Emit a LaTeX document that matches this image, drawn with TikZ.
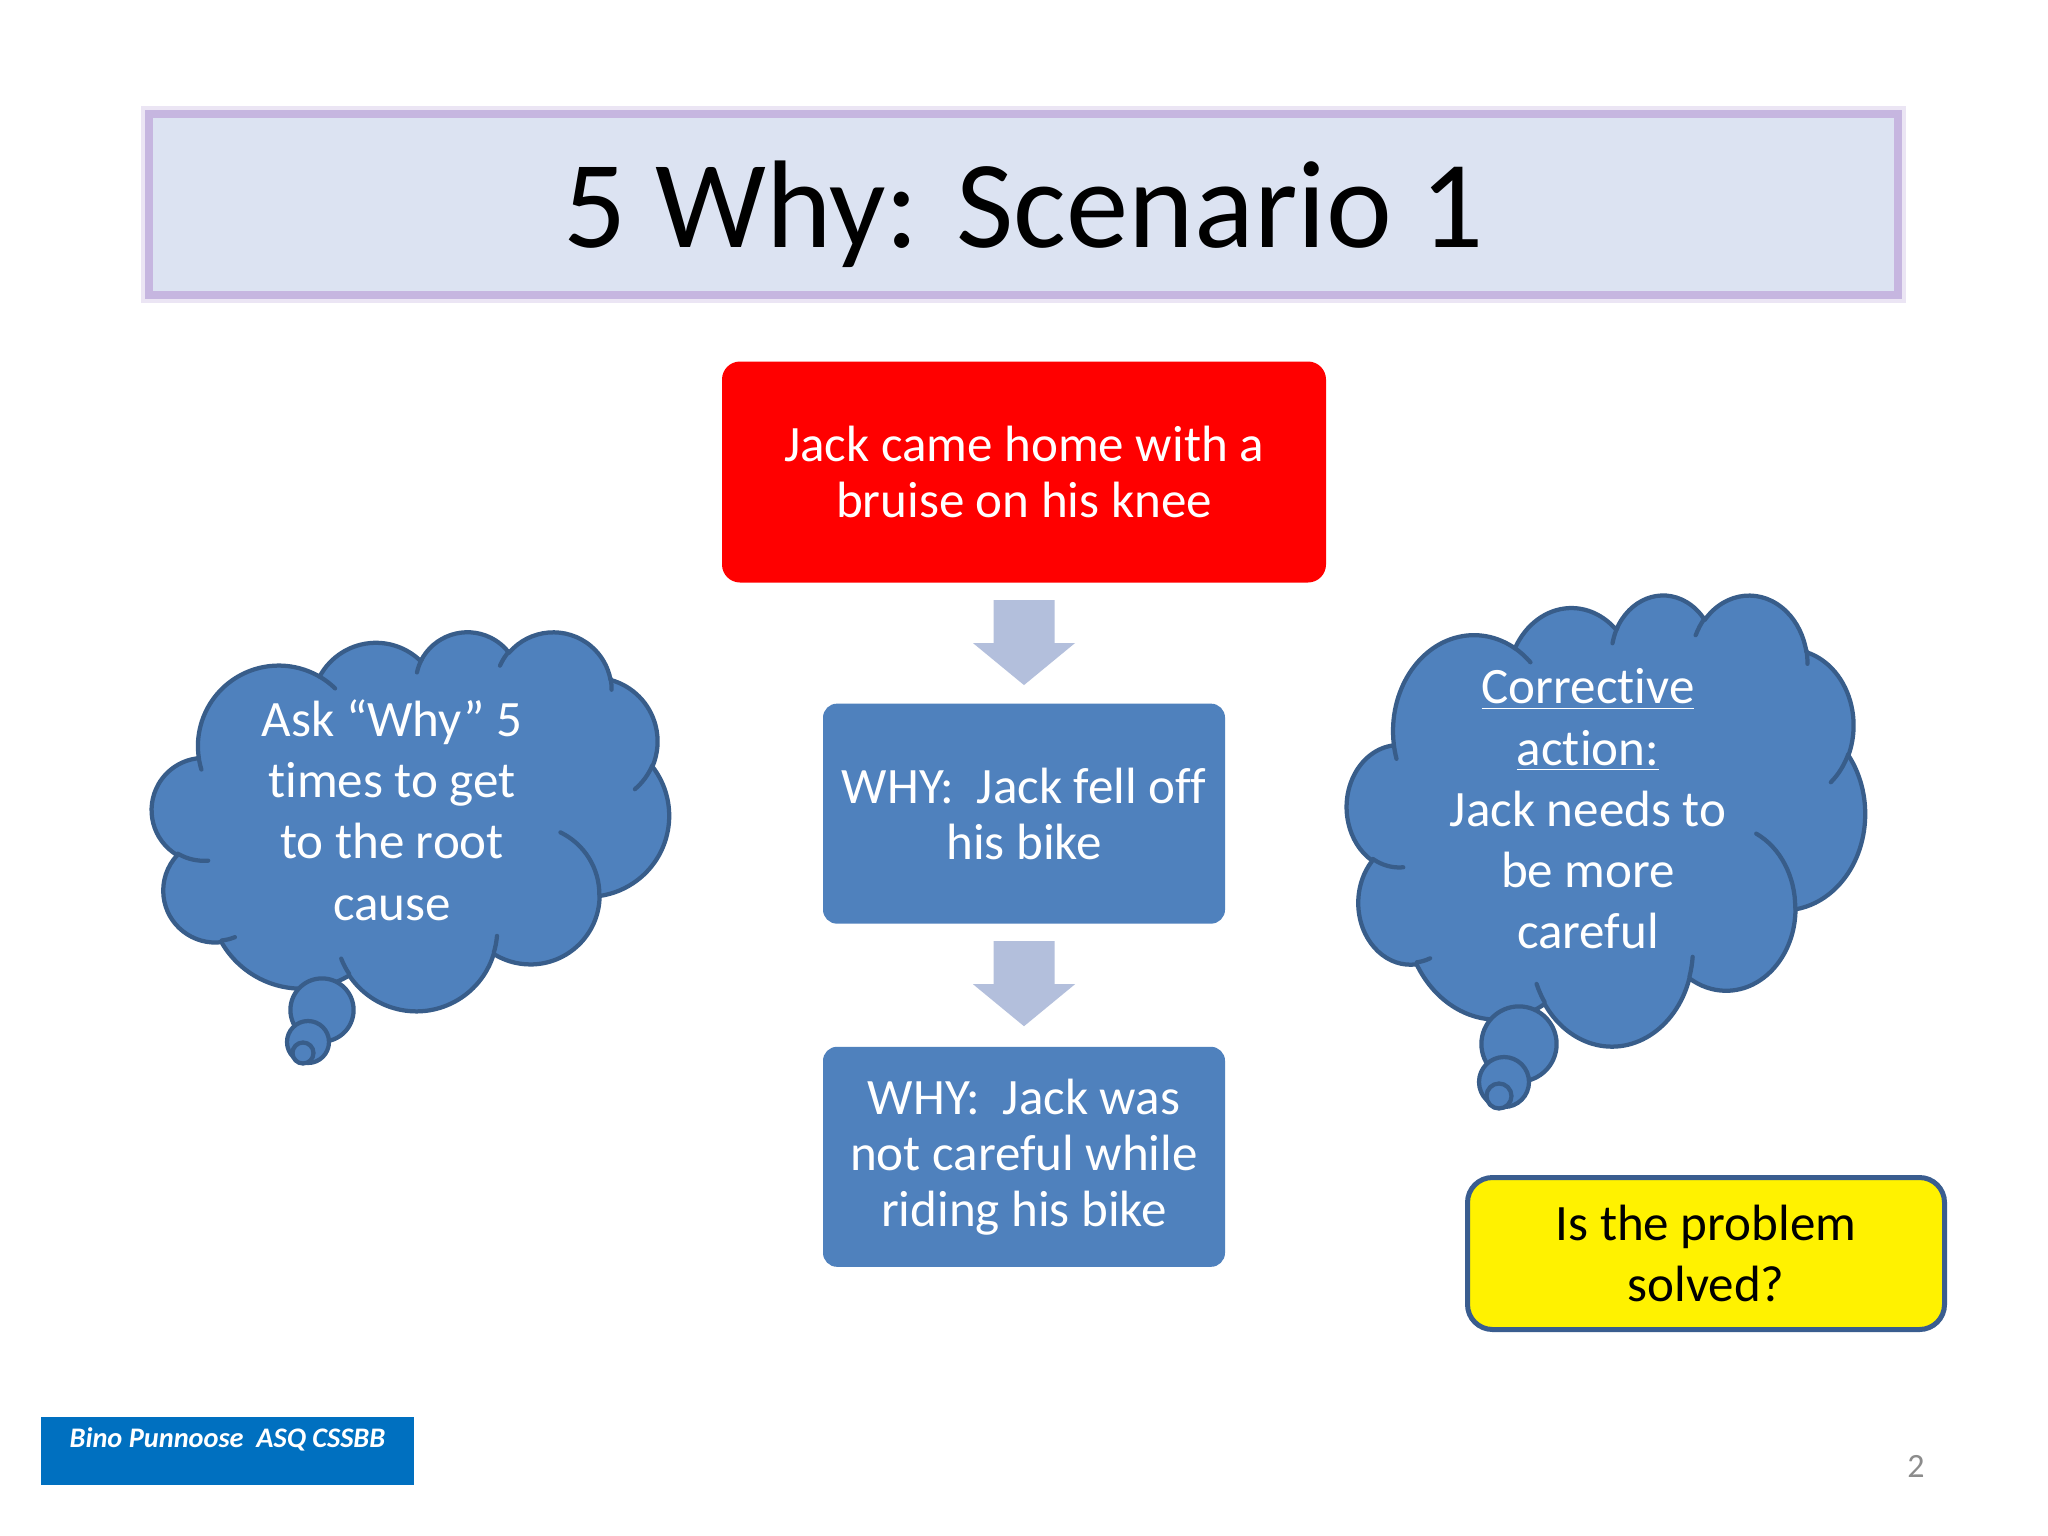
\documentclass[tikz,border=0pt]{standalone}
\usepackage{fontspec}
\setmainfont{Carlito}[Ligatures={TeX,NoCommon}]
\usetikzlibrary{positioning}

\definecolor{slideblue}{HTML}{4F81BD}
\definecolor{cloudedge}{HTML}{385D8A}
\definecolor{titlefill}{HTML}{DCE3F2}
\definecolor{titleedge}{HTML}{C6B6E0}
\definecolor{arrowfill}{HTML}{B3BFDC}
\definecolor{footerblue}{HTML}{0070C0}
\definecolor{pagegray}{HTML}{8C8C8C}
\definecolor{edgeblue}{HTML}{3A5D8F}

\newcommand{\px}{0.124mm}
% thought cloud in a w x h box at (x0,y0), path units are 1/432 of the box
\newcommand{\thoughtcloud}[4]{%
  \begin{scope}[shift={(#1,#2)},xscale=#3/432,yscale=#4/432]
    \filldraw[cloudbody] (39,143.7)
      [lobe={67.53}{91.90}{-190.4875}{123.7805}]
      [lobe={53.33}{72.67}{-144.1024}{89.9452}]
      [lobe={43.65}{59.45}{-145.8079}{99.7230}]
      [lobe={48.57}{65.95}{-130.9861}{117.2417}]
      [lobe={53.33}{72.73}{-78.7089}{109.0269}]
      [lobe={67.75}{92.20}{-46.2673}{130.2690}]
      [lobe={57.85}{78.67}{0.6250}{114.0333}]
      [lobe={67.52}{92.15}{22.4516}{115.1726}]
      [lobe={77.20}{105.43}{66.2426}{75.7110}]
      [lobe={43.60}{59.18}{-274.9421}{146.7356}]
      [lobe={43.45}{59.45}{-246.8285}{152.5189}] -- cycle;
    \draw[cloudline]
      (46.93,261.77) [lobe={43.45}{59.45}{86.7420}{26.4295}]
      (69.28,348.99) [lobe={43.60}{59.18}{73.6105}{11.4475}]
      (164.78,390.90) [lobe={67.52}{92.15}{137.6242}{14.0811}]
      (288.27,347.51) [lobe={67.52}{92.15}{6.4533}{15.9984}]
      (341.29,229.54) [lobe={57.85}{78.67}{-70.2924}{70.9174}]
      (417.98,153.54) [lobe={53.33}{72.73}{30.3180}{27.7515}]
      (383.24,54.26) [lobe={48.57}{65.95}{-13.7443}{14.8589}]
      (290.78,39.52) [lobe={48.57}{65.95}{-149.1815}{18.1954}]
      (221.41,47.20) [lobe={43.65}{59.45}{-163.4943}{19.5139}]
      (140.00,51.92) [lobe={67.53}{91.90}{-66.7070}{12.3194}]
      (41.27,157.89) [lobe={67.53}{91.90}{157.6544}{11.8582}];
  \end{scope}}

\begin{document}
\begin{tikzpicture}[x=\px,y=-\px,
  declare function={vis(\a,\k)=\a+atan((\k-1)*sin(\a)*cos(\a)/(cos(\a)^2+\k*sin(\a)^2));},
  lobe/.style n args={4}{insert path={arc[x radius=#1,y radius=#2,start angle={vis(#3,#1/#2)},end angle={vis(#3+#4,#1/#2)}]}},
  cloudbody/.style={fill=slideblue,draw=cloudedge,line width=1.5pt,line join=round},
  cloudline/.style={draw=cloudedge,line width=1.5pt,line cap=round},
  titlebox/.style={fill=titlefill,draw=titleedge,line width=8*\px,minimum width=1749*\px,minimum height=181*\px,
    inner sep=0pt,text depth=0pt,font=\fontsize{44}{53}\selectfont,
    preaction={draw=titleedge,draw opacity=0.35,line width=16*\px}},
  problem/.style={fill=red,rounded corners=18*\px,minimum width=604*\px,minimum height=221*\px,inner sep=0pt,
    align=center,text=white,font=\fontsize{18}{19.8}\selectfont},
  whybox/.style={fill=slideblue,rounded corners=14*\px,minimum width=402*\px,minimum height=220*\px,inner sep=0pt,
    align=center,text=white,font=\fontsize{18}{19.8}\selectfont},
  thought/.style={align=center,text=white,inner sep=0pt,font=\fontsize{18}{21.6}\selectfont},
  question/.style={fill=yellow,draw=edgeblue,line width=5*\px,rounded corners=25*\px,minimum width=477*\px,
    minimum height=152*\px,inner sep=0pt,align=center,font=\fontsize{18}{21.6}\selectfont},
  blockarrow/.style={fill=arrowfill}
]
\useasboundingbox (0,0) rectangle (2048,1536);
\fill[white] (0,0) rectangle (2048,1536);

\node[titlebox] (title) at (1023.5,204.5) {5 Why: Scenario 1};

\node[problem] (knee) at (1024,472) {Jack came home with a\\bruise on his knee};
\node[whybox,below=14.88mm of knee] (fell) {WHY:\ \ Jack fell off\\his bike};
\node[whybox,below=15.13mm of fell] (careless) {WHY:\ \ Jack was\\not careful while\\riding his bike};

\fill[blockarrow] (knee.south) ++(-30.5,17) -- ++(61,0) -- ++(0,43) -- ++(20.5,0) -- ++(-51,42) -- ++(-51,-42) -- ++(20.5,0) -- cycle;
\fill[blockarrow] (fell.south) ++(-30.5,17) -- ++(61,0) -- ++(0,43) -- ++(20.5,0) -- ++(-51,42) -- ++(-51,-42) -- ++(20.5,0) -- cycle;

% left thought
\thoughtcloud{152}{631}{517}{379}
\filldraw[cloudbody] (322,1010) circle[radius=31.6];
\filldraw[cloudbody] (308,1042) circle[radius=21];
\filldraw[cloudbody] (303,1053) circle[radius=10.5];
\node[thought] (ask) at (392,810) {Ask “Why” 5\\times to get\\to the root\\cause};

% right thought
\thoughtcloud{1347}{594}{518}{451}
\filldraw[cloudbody] (1519,1044) circle[radius=37.6];
\filldraw[cloudbody] (1504,1082) circle[radius=25];
\filldraw[cloudbody] (1499,1096) circle[radius=12.5];
\node[thought] (fix) at (1588,809) {\underline{Corrective}\\\underline{action:}\\Jack needs to\\be more\\careful};

\node[question] (solved) at (1706,1253.5) {Is the problem\\solved?};

\node[fill=footerblue,text=white,minimum width=373*\px,inner xsep=0pt,inner ysep=0pt,text height=31*\px,text depth=37*\px,
  font=\fontsize{10}{12}\selectfont\bfseries\itshape,anchor=north] (author) at (227.5,1416) {Bino Punnoose\ \ ASQ CSSBB};
\node[text=pagegray,anchor=base,inner sep=0pt,font=\fontsize{12}{14}\selectfont] (pagenum) at (1916,1477) {2};
\end{tikzpicture}
\end{document}
